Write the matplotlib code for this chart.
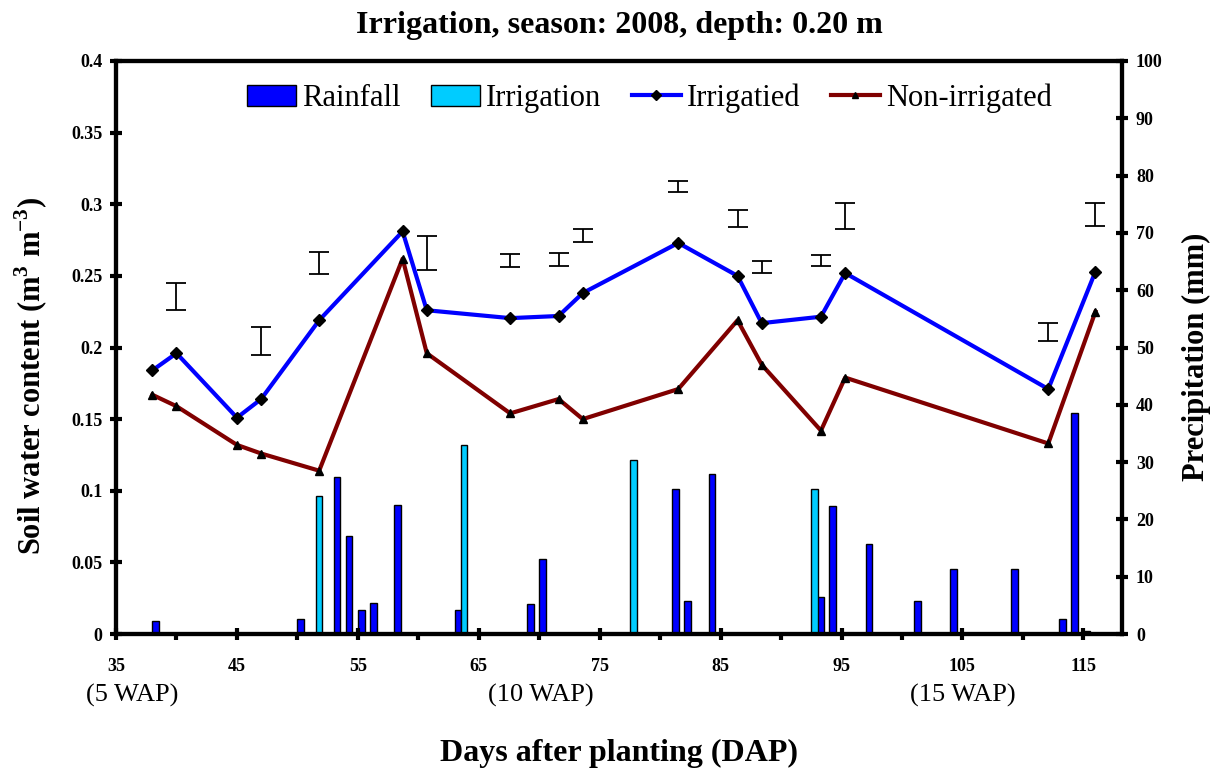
import numpy as np
import matplotlib.pyplot as plt
from matplotlib.patches import Patch
from matplotlib.lines import Line2D

plt.rcParams['font.family'] = ['Liberation Serif', 'DejaVu Serif']
plt.rcParams['mathtext.fontset'] = 'custom'
plt.rcParams['mathtext.rm'] = 'Liberation Serif'
plt.rcParams['mathtext.bf'] = 'Liberation Serif:bold'

# soil water content
days = np.array([38, 40, 45, 47, 51.8, 58.7, 60.7, 67.6, 71.6, 73.6,
                 81.5, 86.4, 88.4, 93.3, 95.3, 112.1, 116.0])
irrigated = np.array([0.184, 0.196, 0.151, 0.164, 0.219, 0.281, 0.226, 0.2205, 0.222, 0.238,
                      0.273, 0.250, 0.217, 0.2215, 0.252, 0.171, 0.253])
non_irrigated = np.array([0.167, 0.159, 0.132, 0.126, 0.114, 0.262, 0.196, 0.154, 0.164, 0.150,
                          0.171, 0.219, 0.188, 0.142, 0.179, 0.133, 0.225])

# LSD bars
lsd_days = np.array([40, 47, 51.8, 60.7, 67.6, 71.6, 73.6, 81.5, 86.4, 88.4, 93.3, 95.3, 112.1, 116.0])
lsd_center = np.array([0.2354, 0.2046, 0.259, 0.266, 0.2606, 0.2615, 0.278, 0.3125, 0.29, 0.256,
                       0.261, 0.292, 0.211, 0.293])
lsd_half = np.array([0.0095, 0.0095, 0.008, 0.012, 0.0044, 0.0047, 0.0044, 0.0039, 0.006, 0.0042,
                     0.0039, 0.009, 0.0062, 0.0082])

# precipitation (mm)
rain_days = np.array([38, 50, 53, 54, 55, 56, 58, 63, 69, 70, 81, 82, 84, 93, 94, 97,
                      101, 104, 109, 113, 114, 115])
rain_mm = np.array([2.3, 2.6, 27.4, 17.1, 4.2, 5.5, 22.6, 4.2, 5.2, 13.1, 25.3, 5.7, 27.9, 6.5,
                    22.3, 15.7, 5.7, 11.3, 11.3, 2.6, 38.6, 0.5])
irr_days = np.array([51, 63, 77, 92])
irr_mm = np.array([24.0, 33.0, 30.4, 25.3])

wap_labels = ['(5 WAP)', '(10 WAP)', '(15 WAP)']
wap_pos = [36.3, 70.1, 105.0]

fig = plt.figure(figsize=(12.1, 7.7), dpi=100)
ax = fig.add_axes([0.0959, 0.1766, 0.8314, 0.7442])
ax2 = ax.twinx()

# bars on the precipitation axis
ax2.bar(rain_days + 0.28, rain_mm, width=0.55, color='#0000FF', edgecolor='black', linewidth=1)
ax2.bar(irr_days + 0.78, irr_mm, width=0.55, color='#00CCFF', edgecolor='black', linewidth=1)
ax2.set_ylim(0, 100)
ax2.set_yticks(np.arange(0, 101, 10))

# lines on top
ax.set_zorder(ax2.get_zorder() + 1)
ax.patch.set_visible(False)

ax.plot(days, irrigated, color='#0000FF', lw=3, marker='D', ms=6.5,
        mfc='black', mec='black', zorder=4)
ax.plot(days, non_irrigated, color='#800000', lw=3, marker='^', ms=6,
        mfc='black', mec='black', zorder=3)
ax.errorbar(lsd_days, lsd_center, yerr=lsd_half, fmt='none', ecolor='black',
            elinewidth=1.3, capsize=7, capthick=1.3, zorder=5)

ax.set_xlim(35, 118.2)
ax.set_ylim(0, 0.4)
ax.set_xticks(np.arange(35, 116, 10))
ax.set_xticks(np.arange(40, 116, 10), minor=True)
ax.set_yticks(np.arange(0, 0.401, 0.05))
ax.set_yticklabels(['0', '0.05', '0.1', '0.15', '0.2', '0.25', '0.3', '0.35', '0.4'])

for a in (ax, ax2):
    for s in a.spines.values():
        s.set_linewidth(3)
ax.tick_params(axis='both', which='major', direction='inout', length=8, width=3,
               labelsize=13, pad=6)
ax.tick_params(axis='x', which='minor', direction='out', length=4, width=3)
ax.tick_params(axis='x', pad=13)
ax2.tick_params(axis='y', which='major', direction='inout', length=8, width=3,
                labelsize=13, pad=6)
for lab in ax.get_xticklabels() + ax.get_yticklabels() + ax2.get_yticklabels():
    lab.set_fontweight('bold')

for txt, p in zip(wap_labels, wap_pos):
    ax.text(p, -0.107, txt, transform=ax.get_xaxis_transform(), ha='center', va='center',
            fontsize=19)

ax.set_xlabel('Days after planting (DAP)', fontsize=23, fontweight='bold', labelpad=46)
ax.set_ylabel(r'Soil water content (m$^\mathbf{3}$ m$^\mathbf{-3}$)', fontsize=22,
              fontweight='bold')
ax.yaxis.set_label_coords(-0.066, 0.45)
ax2.set_ylabel('Precipitation (mm)', fontsize=22, fontweight='bold')
ax2.yaxis.set_label_coords(1.06, 0.484)
ax.set_title('Irrigation, season: 2008, depth: 0.20 m', fontsize=23, fontweight='bold', pad=20)

handles = [Patch(facecolor='#0000FF', edgecolor='black'),
           Patch(facecolor='#00CCFF', edgecolor='black'),
           Line2D([], [], color='#0000FF', lw=3, marker='D', ms=5, mfc='black', mec='black'),
           Line2D([], [], color='#800000', lw=3, marker='^', ms=5, mfc='black', mec='black')]
ax.legend(handles, ['Rainfall', 'Irrigation', 'Irrigatied', 'Non-irrigated'],
          loc='center', bbox_to_anchor=(0.53, 0.935), ncol=4, frameon=False,
          fontsize=22, handlelength=1.6, handletextpad=0.2, columnspacing=1.0)

fig.savefig('out.png', dpi=100)
